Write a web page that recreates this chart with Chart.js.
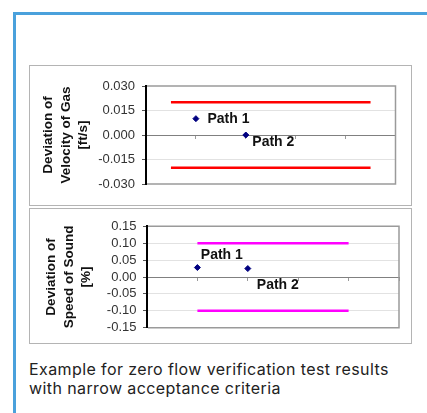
<!DOCTYPE html>
<html>
<head>
<meta charset="utf-8">
<script src="https://cdn.jsdelivr.net/npm/chart.js@4.4.1/dist/chart.umd.min.js"></script>
<style>
  html, body { margin: 0; padding: 0; background: #fff; }
  body { width: 427px; height: 413px; position: relative; overflow: hidden; }
  .frame-top { position: absolute; left: 13px; top: 12px; width: 414px; height: 2.5px; background: #4aa1dc; }
  .frame-left { position: absolute; left: 13px; top: 12px; width: 2.5px; height: 401px; background: #4aa1dc; }
  .panel { position: absolute; left: 29px; width: 381px; border: 1px solid #b4b4b4; }
  #panel1 { top: 65px; height: 139px; }
  #panel2 { top: 208px; height: 134px; }
  .caption { position: absolute; left: 29px; top: 359.5px; font-family: Inter, sans-serif; font-size: 16px; letter-spacing: 0.4px; line-height: 19.3px; color: #222; white-space: nowrap; }
</style>
</head>
<body>
<div class="frame-top"></div>
<div class="frame-left"></div>
<div class="panel" id="panel1"><canvas id="gasChart"></canvas></div>
<div class="panel" id="panel2"><canvas id="soundChart"></canvas></div>
<div class="caption">Example for zero flow verification test results<br>with narrow acceptance criteria</div>

<script>
// data
const pathNames = ['Path 1', 'Path 2'];
const pathX = [2, 4];
const gasDeviation = [0.010, 0.000];
const soundDeviation = [0.028, 0.025];

const gasLimit = 0.02;
const gasLimitX = [1, 9];
const soundLimit = 0.10;
const soundLimitX = [2, 8];

const gasTicks = [-0.030, -0.015, 0.000, 0.015, 0.030];
const soundTicks = [-0.15, -0.10, -0.05, 0.00, 0.05, 0.10, 0.15];
const xTicks = [0, 2, 4, 6, 8, 10];

const gasTitle = ['Deviation of', 'Velocity of Gas', '[ft/s]'];
const soundTitle = ['Deviation of', 'Speed of Sound', '[%]'];


/**
 * gray box round the plot area (left side is the black y axis)
 */
const plotFrame = {
    id: 'plotFrame',
    beforeDatasetsDraw(chart) {
        let ctx = chart.ctx;
        let a = chart.chartArea;
        ctx.save();
        ctx.strokeStyle = '#9a9a9a';
        ctx.lineWidth = 1.5;
        ctx.beginPath();
        ctx.moveTo(a.left + 1, a.top);
        ctx.lineTo(a.right, a.top);
        ctx.lineTo(a.right, a.bottom);
        ctx.lineTo(a.left + 1, a.bottom);
        ctx.stroke();
        ctx.restore();
    }
};

/**
 * "Path 1" / "Path 2" labels next to the points
 */
const pathLabels = {
    id: 'pathLabels',
    afterDatasetsDraw(chart, args, opts) {
        let ctx = chart.ctx;
        let meta = chart.getDatasetMeta(0);
        ctx.save();
        ctx.font = 'bold 14px "Liberation Sans", Arial, sans-serif';
        ctx.fillStyle = '#111';
        ctx.textAlign = 'left';
        ctx.textBaseline = 'middle';
        meta.data.forEach(function(pt, i) {
            let off = opts.offsets[i];
            ctx.fillText(pathNames[i], pt.x + off[0], pt.y + off[1]);
        });
        ctx.restore();
    }
};


/**
 * Draw one deviation chart
 */
function draw(canvasId, values, limit, limitX, ticks, decimals, title, look) {
    let points = [];
    for (let i = 0; i < values.length; i++) {
        points.push({x: pathX[i], y: values[i]});
    }
    let upper = [{x: limitX[0], y: limit}, {x: limitX[1], y: limit}];
    let lower = [{x: limitX[0], y: -limit}, {x: limitX[1], y: -limit}];
    let yMax = ticks[ticks.length - 1];

    let chartObject = {};
    chartObject['type'] = 'scatter';
    chartObject['data'] = {datasets: [
        {data: points, pointStyle: 'rectRot', pointRadius: 3, borderWidth: 1,
         backgroundColor: '#000080', borderColor: '#000080', showLine: false},
        {data: upper, showLine: true, borderColor: look.lineColor, borderWidth: 2.5, pointRadius: 0},
        {data: lower, showLine: true, borderColor: look.lineColor, borderWidth: 2.5, pointRadius: 0}
    ]};
    chartObject['options'] = {
        responsive: true,
        maintainAspectRatio: false,
        animation: false,
        layout: {padding: look.padding},
        plugins: {
            legend: {display: false},
            tooltip: {enabled: false},
            pathLabels: {offsets: look.offsets}
        },
        scales: {
            x: {
                type: 'linear', min: 0, max: 10,
                position: {y: 0},
                afterBuildTicks: s => { s.ticks = xTicks.map(v => ({value: v})); },
                ticks: {display: false, autoSkip: false},
                grid: {drawOnChartArea: false, drawTicks: true, tickLength: 3, tickColor: '#9a9a9a'},
                border: {color: '#808080', width: 1}
            },
            y: {
                min: ticks[0], max: yMax,
                afterBuildTicks: s => { s.ticks = ticks.map(v => ({value: v})); },
                afterFit: s => { s.width = look.axisWidth; },
                ticks: {
                    autoSkip: false,
                    padding: look.tickPad,
                    color: '#333',
                    font: {family: '"Liberation Sans", Arial, sans-serif', size: 13},
                    callback: v => (Math.abs(v) < 1e-9 ? 0 : v).toFixed(decimals)
                },
                grid: {
                    tickLength: 4,
                    tickColor: '#555',
                    color: ctx => {
                        let v = ctx.tick ? ctx.tick.value : 0;
                        if (Math.abs(v) < 1e-9 || Math.abs(Math.abs(v) - yMax) < 1e-9) return 'rgba(0,0,0,0)';
                        return '#e2e2e2';
                    }
                },
                border: {color: '#000', width: 2},
                title: {
                    display: true,
                    text: title,
                    color: '#111',
                    padding: {top: look.titlePad, bottom: 0},
                    font: {family: '"Liberation Sans", Arial, sans-serif', size: 13.5, weight: 'bold', lineHeight: 1.28}
                }
            }
        }
    };
    chartObject['plugins'] = [plotFrame, pathLabels];
    return new Chart(document.getElementById(canvasId), chartObject);
}

draw('gasChart', gasDeviation, gasLimit, gasLimitX, gasTicks, 3, gasTitle, {
    lineColor: '#ff0000',
    padding: {left: 0, top: 20, right: 15.5, bottom: 21},
    axisWidth: 116,
    tickPad: 7,
    titlePad: 10,
    offsets: [[11.5, 0], [6.5, 7.5]]
});

draw('soundChart', soundDeviation, soundLimit, soundLimitX, soundTicks, 2, soundTitle, {
    lineColor: '#ff00ff',
    padding: {left: 0, top: 17.3, right: 12, bottom: 15.3},
    axisWidth: 117,
    tickPad: 6.5,
    titlePad: 13,
    offsets: [[3.4, -12.6], [9, 16.7]]
});
</script>
</body>
</html>
